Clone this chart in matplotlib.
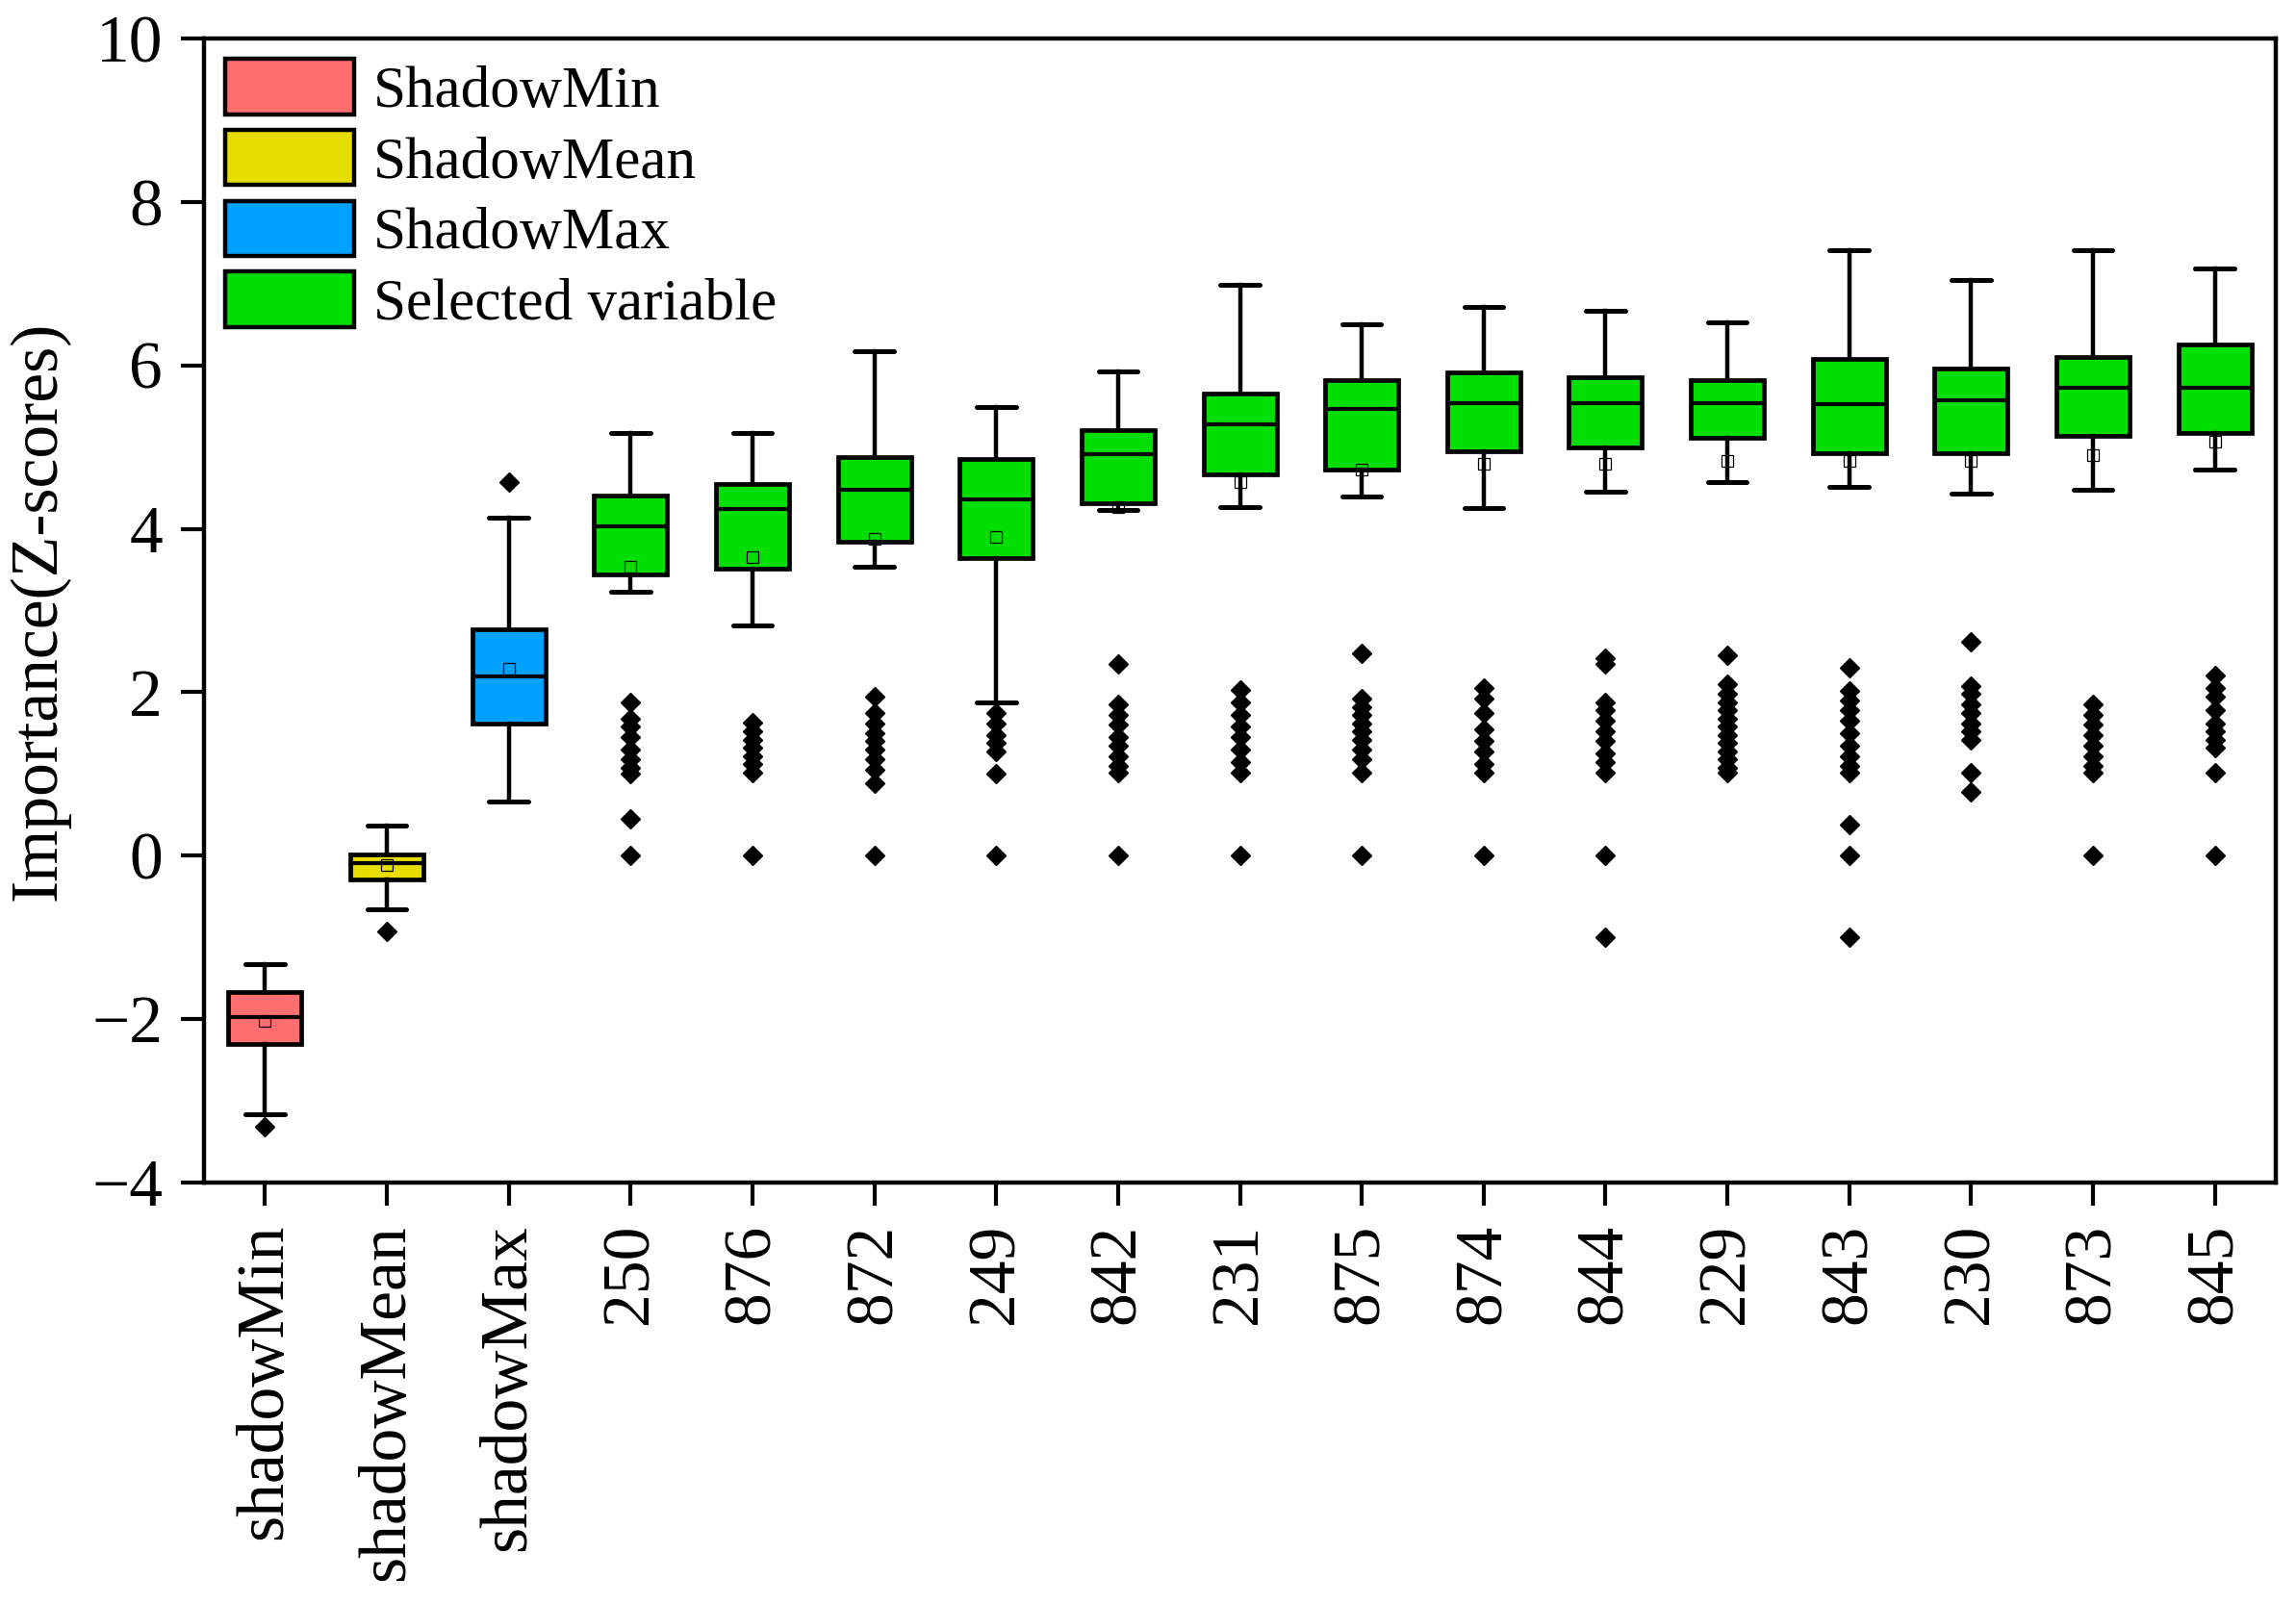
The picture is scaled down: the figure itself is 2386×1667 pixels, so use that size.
import numpy as np
import matplotlib.pyplot as plt
from matplotlib.patches import Patch

plt.rcParams['font.family'] = ['Liberation Serif', 'DejaVu Serif']

labels = ['shadowMin', 'shadowMean', 'shadowMax', '250', '876', '872', '249', '842',
          '231', '875', '874', '844', '229', '843', '230', '873', '845']
whishi = [-1.33, 0.37, 4.14, 5.17, 5.17, 6.17, 5.49, 5.92, 6.99, 6.50, 6.71, 6.67, 6.53, 7.41, 7.05, 7.41, 7.19]
q3 = [-1.67, 0.02, 2.77, 4.41, 4.55, 4.88, 4.85, 5.21, 5.66, 5.82, 5.91, 5.86, 5.82, 6.08, 5.96, 6.10, 6.26]
med = [-1.98, -0.09, 2.19, 4.03, 4.24, 4.48, 4.36, 4.91, 5.28, 5.47, 5.54, 5.54, 5.54, 5.53, 5.57, 5.73, 5.73]
q1 = [-2.31, -0.29, 1.62, 3.44, 3.51, 3.84, 3.64, 4.31, 4.67, 4.73, 4.95, 5.00, 5.11, 4.92, 4.92, 5.14, 5.17]
whislo = [-3.17, -0.66, 0.66, 3.23, 2.82, 3.53, 1.87, 4.23, 4.27, 4.39, 4.25, 4.45, 4.57, 4.51, 4.43, 4.48, 4.72]
means = [-2.02, -0.12, 2.29, 3.54, 3.65, 3.88, 3.90, 4.27, 4.57, 4.72, 4.79, 4.79, 4.83, 4.83, 4.83, 4.90, 5.07]
fliers = [
    [-3.32],
    [-0.93],
    [4.57],
    [1.88, 1.68, 1.58, 1.45, 1.30, 1.18, 1.08, 1.0, 0.45, 0.0],
    [1.63, 1.52, 1.42, 1.32, 1.22, 1.12, 1.02, 0.0],
    [1.95, 1.75, 1.62, 1.50, 1.40, 1.30, 1.18, 1.05, 0.88, 0.0],
    [1.75, 1.62, 1.48, 1.38, 1.28, 1.0, 0.0],
    [2.35, 1.85, 1.72, 1.60, 1.45, 1.35, 1.22, 1.10, 1.02, 0.0],
    [2.03, 1.88, 1.72, 1.58, 1.45, 1.30, 1.15, 1.02, 0.0],
    [2.47, 1.92, 1.82, 1.72, 1.62, 1.52, 1.42, 1.30, 1.18, 1.02, 0.0],
    [2.05, 1.92, 1.75, 1.55, 1.40, 1.28, 1.12, 1.02, 0.0],
    [2.42, 2.35, 1.88, 1.78, 1.65, 1.52, 1.40, 1.25, 1.15, 1.02, 0.0, -1.0],
    [2.45, 2.10, 1.98, 1.88, 1.78, 1.68, 1.58, 1.48, 1.38, 1.28, 1.18, 1.08, 1.02],
    [2.30, 2.02, 1.90, 1.78, 1.65, 1.50, 1.35, 1.22, 1.10, 1.02, 0.38, 0.0, -1.0],
    [2.62, 2.08, 1.98, 1.85, 1.75, 1.62, 1.52, 1.42, 1.02, 0.78],
    [1.85, 1.72, 1.60, 1.48, 1.35, 1.22, 1.10, 1.02, 0.0],
    [2.20, 2.05, 1.95, 1.78, 1.62, 1.52, 1.42, 1.32, 1.02, 0.0],
]
groups = ['ShadowMin', 'ShadowMean', 'ShadowMax'] + ['Selected variable'] * 14
colors = {'ShadowMin': '#FF6F6F', 'ShadowMean': '#E8DD00',
          'ShadowMax': '#00A2FF', 'Selected variable': '#00DF00'}

stats = []
for i in range(len(labels)):
    stats.append(dict(label=labels[i], med=med[i], q1=q1[i], q3=q3[i],
                      whislo=whislo[i], whishi=whishi[i], mean=means[i],
                      fliers=np.array(fliers[i])))

fig = plt.figure(figsize=(23.86, 16.67), dpi=100)
ax = fig.add_axes([0.0889, 0.2628, 0.9023, 0.7132])

bp = ax.bxp(stats, positions=np.arange(1, len(labels) + 1), widths=0.6,
            patch_artist=True, showmeans=True, capwidths=0.32,
            boxprops=dict(linewidth=3.4, edgecolor='black'),
            medianprops=dict(color='black', linewidth=3.0),
            whiskerprops=dict(color='black', linewidth=3.2),
            capprops=dict(color='black', linewidth=3.6, solid_capstyle='round'),
            flierprops=dict(marker='D', markerfacecolor='black', markeredgecolor='black',
                            markersize=10),
            meanprops=dict(marker='s', markerfacecolor='none', markeredgecolor='black',
                           markersize=9, markeredgewidth=0.9))
for patch, g in zip(bp['boxes'], groups):
    patch.set_facecolor(colors[g])

ax.set_xlim(0.5, len(labels) + 0.5)
ax.set_ylim(-4, 10)
ax.set_yticks([-4, -2, 0, 2, 4, 6, 8, 10])
ax.set_yticklabels(['\u22124', '\u22122', '0', '2', '4', '6', '8', '10'])
ax.set_xticklabels(labels, rotation=90)
ax.tick_params(axis='both', direction='out', length=17, width=3.0, labelsize=50, pad=14)
for s in ax.spines.values():
    s.set_linewidth(3.2)
ax.set_ylabel('Importance(Z-scores)', fontsize=50, labelpad=16)

handles = [Patch(facecolor=colors[k], edgecolor='black', linewidth=3.2) for k in colors]
ax.legend(handles, list(colors.keys()), loc='upper left', fontsize=44, frameon=False,
          handlelength=2.2, handleheight=1.07, labelspacing=0.18, handletextpad=0.33,
          borderaxespad=0.3, borderpad=0.05)

fig.savefig('out.png', dpi=100)
